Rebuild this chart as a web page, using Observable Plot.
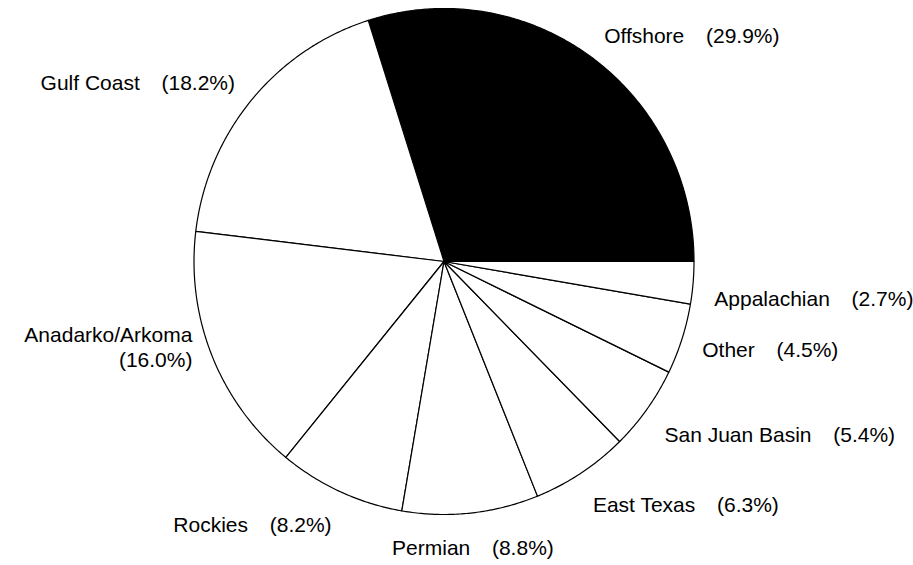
<!DOCTYPE html>
<html>
<head>
<meta charset="utf-8">
<script src="https://cdn.jsdelivr.net/npm/d3@7"></script>
<script src="https://cdn.jsdelivr.net/npm/@observablehq/plot@0.6"></script>
<style>
  html, body { margin: 0; padding: 0; background: #fff; }
  #chart svg { display: block; }
</style>
</head>
<body>
<div id="chart"></div>
<script>
// ---- data ----
const regions = ["Offshore", "Gulf Coast", "Anadarko/Arkoma", "Rockies", "Permian",
                 "East Texas", "San Juan Basin", "Other", "Appalachian"];
const shares = [29.9, 18.2, 16.0, 8.2, 8.8, 6.3, 5.4, 4.5, 2.7];
const highlighted = ["Offshore"];
const twoLineLabels = ["Anadarko/Arkoma"];

// ---- label layout (alignment only; exceptions to the default corner rule) ----
const labelVerticalOverride = {"Anadarko/Arkoma": "bottom", "Other": "middle"};

// ---- derived slice geometry (angles in degrees, counter-clockwise from 3 o'clock) ----
const total = d3.sum(shares);
let acc = 0;
const slices = regions.map((name, i) => {
  const a0 = acc / total * 360;
  acc += shares[i];
  const a1 = acc / total * 360;
  return {name, share: shares[i], a0, a1, mid: (a0 + a1) / 2};
});

const rad = (a) => a * Math.PI / 180;
const outline = slices.flatMap((s) => {
  const pts = [{name: s.name, x: 0, y: 0}];
  const n = Math.max(2, Math.ceil((s.a1 - s.a0) / 0.5));
  for (let k = 0; k <= n; ++k) {
    const a = rad(s.a0 + (s.a1 - s.a0) * k / n);
    pts.push({name: s.name, x: Math.cos(a), y: Math.sin(a)});
  }
  return pts;
});

const gap = "\u00a0\u00a0\u00a0\u2009";
const labelR = 1.085;
const labels = slices.map((s) => {
  const c = Math.cos(rad(s.mid)), sn = Math.sin(rad(s.mid));
  const pct = s.share.toFixed(1) + "%";
  const text = twoLineLabels.includes(s.name) ? `${s.name}\n(${pct})` : `${s.name}${gap}(${pct})`;
  const h = Math.abs(c) < 0.2 ? "middle" : c > 0 ? "start" : "end";
  const v = labelVerticalOverride[s.name] ?? (sn < 0 ? "top" : "bottom");
  return {x: c * labelR, y: sn * labelR, text, h, v};
});

const font = {fontFamily: "'Liberation Sans', Arial, Helvetica, sans-serif", fontSize: 21, fill: "black", lineHeight: 1.2, dy: 3};

const groups = d3.groups(labels, (d) => d.h + "|" + d.v);
const textMarks = groups.map(([key, rows]) => {
  const [h, v] = key.split("|");
  return Plot.text(rows, {x: "x", y: "y", text: "text", textAnchor: h, lineAnchor: v, ...font});
});

const chart = Plot.plot({
  width: 913,
  height: 565,
  margin: 0,
  x: {domain: [-1, 1], range: [193.5, 693.5], axis: null},
  y: {domain: [-1, 1], range: [514, 8], axis: null},
  style: {background: "white", overflow: "visible"},
  marks: [
    Plot.line(outline, {
      x: "x", y: "y", z: "name",
      fill: (d) => highlighted.includes(d.name) ? "black" : "white",
      stroke: "black", strokeWidth: 1.2, strokeLinejoin: "round",
      curve: "linear-closed"
    }),
    ...textMarks
  ]
});
document.getElementById("chart").appendChild(chart);
</script>
</body>
</html>
